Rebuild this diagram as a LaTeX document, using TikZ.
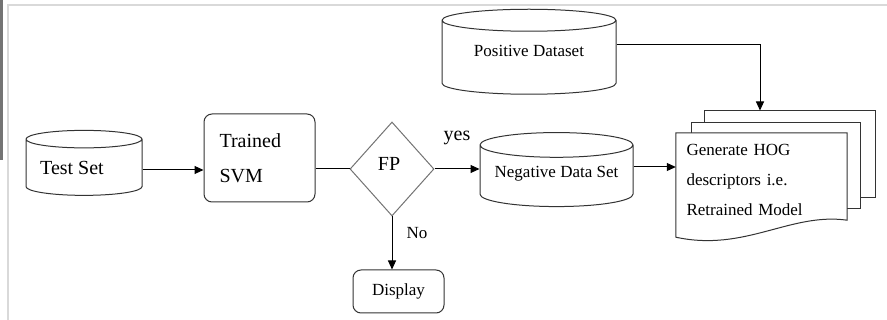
\documentclass[tikz,border=0pt]{standalone}
\usepackage{fontspec}
\setmainfont{Liberation Serif}
\usetikzlibrary{shapes,arrows.meta,calc,positioning,backgrounds}

\tikzset{
  big/.style={font=\fontsize{20}{24}\selectfont},
  small/.style={font=\fontsize{17}{20}\selectfont},
  dbase/.style={draw=black!80, line width=1pt, cylinder, shape border rotate=90, aspect=0.2, inner sep=0pt},
  rbox/.style={draw=black!80, line width=1pt, rectangle, rounded corners=8pt},
  page/.style={draw=black!80, line width=1pt, fill=white, rectangle},
  arr/.style={line width=1pt, -{Triangle[length=9pt,width=8pt]}}
}

\begin{document}
\begin{tikzpicture}[x=1pt, y=-1pt]
  \useasboundingbox (0,0) rectangle (887,320);
  % screenshot frame
  \fill[black!55] (0,0) rectangle (3,160);
  \draw[black!15, line width=1.5pt] (8,320) -- (8,5) -- (887,5);

  \node [dbase, big, minimum width=116pt, minimum height=65pt] at (84,167.5) (tset) {Test Set\hspace*{24pt}};
  \node [rbox, big, minimum width=111pt, minimum height=88pt, align=left, text width=80pt] at (259.5,158) (svm) {Trained\\[11pt]SVM};
  \node [draw=black!55, line width=1pt, diamond, minimum width=84pt, minimum height=94pt, inner sep=0pt, big] at (392,169) (fp) {\raisebox{10pt}{FP}\hspace*{6pt}};
  \node [rbox, small, minimum width=91pt, minimum height=43pt] at (398.5,291.5) (disp) {\raisebox{3pt}{Display}};

  \node [dbase, small, minimum width=153pt, minimum height=74pt] at (556.5,176) (neg) {\raisebox{8pt}{Negative Data Set}};
  \node [dbase, small, minimum width=174pt, minimum height=85pt] at (529,57.5) (pos) {\raisebox{14pt}{Positive Dataset}};

  \node [small, minimum width=171pt, minimum height=93pt, align=left, text width=150pt] at (761.5,179.5) (doc) {Generate HOG\\[10pt]descriptors i.e.\\[10pt]Retrained Model};

  \begin{scope}[on background layer]
    \node [page, minimum width=171pt, minimum height=87pt] at (789.5,154.5) (page3) {};
    \node [page, minimum width=169pt, minimum height=86pt] at (775.5,166) (page2) {};
    \draw [draw=black!80, line width=1pt, fill=white] (doc.north west) -- (doc.north east) -- ($(doc.south east)+(0,-6)$)
      .. controls ($(doc.south east)+(-57,-14)$) and ($(doc.south east)+(-102,26)$) .. ($(doc.south west)+(0,11)$) -- cycle;
  \end{scope}

  \node at (457,138) [big] (yes) {yes};
  \node at (417,233) [small] (no) {No};

  \draw [arr] (tset.east |- 0,170) -- (svm.west |- 0,170);
  \draw [line width=1pt] (svm.east |- fp.west) -- (fp.west);
  \draw [arr] (fp.east) -- (fp.east -| neg.west);
  \draw [arr] (fp.south) -- (fp.south |- disp.north);
  \draw [arr] (neg.east |- 0,167) -- (doc.west |- 0,167);
  \draw [arr] (pos.east |- 0,45) -| ([xshift=-29.5pt]page3.north);

\end{tikzpicture}
\end{document}
